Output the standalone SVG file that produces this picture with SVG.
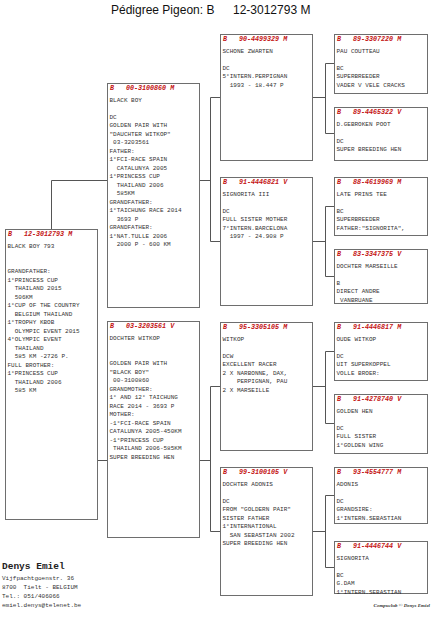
<svg xmlns="http://www.w3.org/2000/svg" width="432" height="622" viewBox="0 0 432 622">
<style>
.box{fill:#fff;stroke:#6e6e6e;stroke-width:1}
.con{fill:none;stroke:#555;stroke-width:1}
.hd{font-family:"Liberation Mono","DejaVu Sans Mono",monospace;font-size:6.7px;font-weight:bold;font-style:italic;fill:#c41414}
.tx{font-family:"Liberation Mono","DejaVu Sans Mono",monospace;font-size:6px;fill:#333;white-space:pre}
.title{font-family:"Liberation Sans",Arial,sans-serif;font-size:12px;fill:#111}
.nm{font-family:"Liberation Mono",monospace;font-size:9.5px;font-weight:bold;fill:#222}
.ad{font-family:"Liberation Mono",monospace;font-size:6px;fill:#333;white-space:pre}
.ft{font-family:"Liberation Serif",serif;font-size:5px;font-style:italic;font-weight:bold;fill:#333}
</style>
<rect width="432" height="622" fill="#fff"/>
<text class="title" x="111" y="14">Pédigree Pigeon: B</text>
<text class="title" x="233" y="14">12-3012793 M</text>

<g id="connectors">
<path class="con" d="M51.5,229.5 V180.5 H107.5"/>
<path class="con" d="M97.5,460.5 H107.5"/>
<path class="con" d="M199.5,180.5 H210.5 M210.5,97.5 V241.5 M210.5,97.5 H220.5 M210.5,241.5 H220.5"/>
<path class="con" d="M199.5,460.5 H210.5 M210.5,386.5 V531.5 M210.5,386.5 H220.5 M210.5,531.5 H220.5"/>
<path class="con" d="M312.5,97.5 H325.5 M325.5,63.5 V133.5 M325.5,63.5 H334.5 M325.5,133.5 H334.5"/>
<path class="con" d="M312.5,241.5 H325.5 M325.5,206.5 V276.5 M325.5,206.5 H334.5 M325.5,276.5 H334.5"/>
<path class="con" d="M312.5,386.5 H325.5 M325.5,351.5 V423.5 M325.5,351.5 H334.5 M325.5,423.5 H334.5"/>
<path class="con" d="M312.5,531.5 H325.5 M325.5,495.5 V567.5 M325.5,495.5 H334.5 M325.5,567.5 H334.5"/>
</g>

<g id="n1">
<rect class="box" x="5.5" y="229.5" width="92" height="290"/>
<text class="hd" x="8" y="236">B</text><text class="hd" x="24" y="236">12-3012793 M</text>
<text class="tx" x="7.5" y="247.5">BLACK BOY 793</text>
<text class="tx" x="7.5" y="273">GRANDFATHER:</text>
<text class="tx" x="7.5" y="281.5">1°PRINCESS CUP</text>
<text class="tx" x="7.5" y="290">  THAILAND 2015</text>
<text class="tx" x="7.5" y="298.5">  506KM</text>
<text class="tx" x="7.5" y="307">1°CUP OF THE COUNTRY</text>
<text class="tx" x="7.5" y="315.5">  BELGIUM THAILAND</text>
<text class="tx" x="7.5" y="324">1°TROPHY KBOB</text>
<text class="tx" x="7.5" y="332.5">  OLYMPIC EVENT 2015</text>
<text class="tx" x="7.5" y="341">4°OLYMPIC EVENT</text>
<text class="tx" x="7.5" y="349.5">  THAILAND</text>
<text class="tx" x="7.5" y="358">  585 KM -2726 P.</text>
<text class="tx" x="7.5" y="366.5">FULL BROTHER:</text>
<text class="tx" x="7.5" y="375">1°PRINCESS CUP</text>
<text class="tx" x="7.5" y="383.5">  THAILAND 2006</text>
<text class="tx" x="7.5" y="392">  585 KM</text>
</g>

<g id="n2">
<rect class="box" x="107.5" y="83.5" width="92" height="224"/>
<text class="hd" x="110" y="90">B</text><text class="hd" x="126" y="90">00-3100860 M</text>
<text class="tx" x="109.5" y="101.5">BLACK BOY</text>
<text class="tx" x="109.5" y="118.5">DC</text>
<text class="tx" x="109.5" y="127">GOLDEN PAIR WITH</text>
<text class="tx" x="109.5" y="135.5">"DAUCHTER WITKOP"</text>
<text class="tx" x="109.5" y="144"> 03-3203561</text>
<text class="tx" x="109.5" y="152.5">FATHER:</text>
<text class="tx" x="109.5" y="161">1°FCI-RACE SPAIN</text>
<text class="tx" x="109.5" y="169.5">  CATALUNYA 2005</text>
<text class="tx" x="109.5" y="178">1°PRINCESS CUP</text>
<text class="tx" x="109.5" y="186.5">  THAILAND 2006</text>
<text class="tx" x="109.5" y="195">  585KM</text>
<text class="tx" x="109.5" y="203.5">GRANDFATHER:</text>
<text class="tx" x="109.5" y="212">1°TAICHUNG RACE 2014</text>
<text class="tx" x="109.5" y="220.5">  3693 P</text>
<text class="tx" x="109.5" y="229">GRANDFATHER:</text>
<text class="tx" x="109.5" y="237.5">1°NAT.TULLE 2006</text>
<text class="tx" x="109.5" y="246">  2000 P - 600 KM</text>
</g>

<g id="n3">
<rect class="box" x="107.5" y="321.5" width="92" height="216"/>
<text class="hd" x="110" y="328">B</text><text class="hd" x="126" y="328">03-3203561 V</text>
<text class="tx" x="109.5" y="339.5">DOCHTER WITKOP</text>
<text class="tx" x="109.5" y="365">GOLDEN PAIR WITH</text>
<text class="tx" x="109.5" y="373.5">"BLACK BOY"</text>
<text class="tx" x="109.5" y="382"> 00-3100860</text>
<text class="tx" x="109.5" y="390.5">GRANDMOTHER:</text>
<text class="tx" x="109.5" y="399">1° AND 12° TAICHUNG</text>
<text class="tx" x="109.5" y="407.5">RACE 2014 - 3693 P</text>
<text class="tx" x="109.5" y="416">MOTHER:</text>
<text class="tx" x="109.5" y="424.5">-1°FCI-RACE SPAIN</text>
<text class="tx" x="109.5" y="433">CATALUNYA 2005-450KM</text>
<text class="tx" x="109.5" y="441.5">-1°PRINCESS CUP</text>
<text class="tx" x="109.5" y="450"> THAILAND 2006-585KM</text>
<text class="tx" x="109.5" y="458.5">SUPER BREEDING HEN</text>
</g>

<g id="n4">
<rect class="box" x="220.5" y="34.5" width="92" height="126"/>
<text class="hd" x="223" y="41">B</text><text class="hd" x="239" y="41">90-4499329 M</text>
<text class="tx" x="222.5" y="52.5">SCHONE ZWARTEN</text>
<text class="tx" x="222.5" y="69.5">DC</text>
<text class="tx" x="222.5" y="78">5°INTERN.PERPIGNAN</text>
<text class="tx" x="222.5" y="86.5">  1993 - 18.447 P</text>
</g>

<g id="n5">
<rect class="box" x="220.5" y="177.5" width="92" height="128"/>
<text class="hd" x="223" y="184">B</text><text class="hd" x="239" y="184">91-4446821 V</text>
<text class="tx" x="222.5" y="195.5">SIGNORITA III</text>
<text class="tx" x="222.5" y="212.5">DC</text>
<text class="tx" x="222.5" y="221">FULL SISTER MOTHER</text>
<text class="tx" x="222.5" y="229.5">7°INTERN.BARCELONA</text>
<text class="tx" x="222.5" y="238">  1997 - 24.908 P</text>
</g>

<g id="n6">
<rect class="box" x="220.5" y="322.5" width="92" height="128"/>
<text class="hd" x="223" y="329">B</text><text class="hd" x="239" y="329">95-3305105 M</text>
<text class="tx" x="222.5" y="340.5">WITKOP</text>
<text class="tx" x="222.5" y="357.5">DCW</text>
<text class="tx" x="222.5" y="366">EXCELLENT RACER</text>
<text class="tx" x="222.5" y="374.5">2 X NARBONNE, DAX,</text>
<text class="tx" x="222.5" y="383">    PERPIGNAN, PAU</text>
<text class="tx" x="222.5" y="391.5">2 X MARSEILLE</text>
</g>

<g id="n7">
<rect class="box" x="220.5" y="467.5" width="92" height="128"/>
<text class="hd" x="223" y="474">B</text><text class="hd" x="239" y="474">99-3100105 V</text>
<text class="tx" x="222.5" y="485.5">DOCHTER ADONIS</text>
<text class="tx" x="222.5" y="502.5">DC</text>
<text class="tx" x="222.5" y="511">FROM "GOLDERN PAIR"</text>
<text class="tx" x="222.5" y="519.5">SISTER FATHER</text>
<text class="tx" x="222.5" y="528">1°INTERNATIONAL</text>
<text class="tx" x="222.5" y="536.5">  SAN SEBASTIAN 2002</text>
<text class="tx" x="222.5" y="545">SUPER BREEDING HEN</text>
</g>

<g id="n8">
<rect class="box" x="334.5" y="34.5" width="93" height="59"/>
<text class="hd" x="337" y="41">B</text><text class="hd" x="353" y="41">89-3307220 M</text>
<text class="tx" x="336.5" y="52.5">PAU COUTTEAU</text>
<text class="tx" x="336.5" y="69.5">BC</text>
<text class="tx" x="336.5" y="78">SUPERBREEDER</text>
<text class="tx" x="336.5" y="86.5">VADER V VELE CRACKS</text>
</g>

<g id="n9">
<rect class="box" x="334.5" y="107.5" width="93" height="53"/>
<text class="hd" x="337" y="114">B</text><text class="hd" x="353" y="114">89-4465322 V</text>
<text class="tx" x="336.5" y="125.5">D.GEBROKEN POOT</text>
<text class="tx" x="336.5" y="142.5">DC</text>
<text class="tx" x="336.5" y="151">SUPER BREEDING HEN</text>
</g>

<g id="n10">
<rect class="box" x="334.5" y="177.5" width="93" height="58"/>
<text class="hd" x="337" y="184">B</text><text class="hd" x="353" y="184">88-4619969 M</text>
<text class="tx" x="336.5" y="195.5">LATE PRINS TEE</text>
<text class="tx" x="336.5" y="212.5">BC</text>
<text class="tx" x="336.5" y="221">SUPERBREEDER</text>
<text class="tx" x="336.5" y="229.5">FATHER:"SIGNORITA",</text>
</g>

<g id="n11">
<rect class="box" x="334.5" y="249.5" width="93" height="54"/>
<text class="hd" x="337" y="256">B</text><text class="hd" x="353" y="256">83-3347375 V</text>
<text class="tx" x="336.5" y="267.5">DOCHTER MARSEILLE</text>
<text class="tx" x="336.5" y="284.5">B</text>
<text class="tx" x="336.5" y="293">DIRECT ANDRE</text>
<text class="tx" x="336.5" y="301.5"> VANBRUANE</text>
</g>

<g id="n12">
<rect class="box" x="334.5" y="322.5" width="93" height="58"/>
<text class="hd" x="337" y="329">B</text><text class="hd" x="353" y="329">91-4446817 M</text>
<text class="tx" x="336.5" y="340.5">OUDE WITKOP</text>
<text class="tx" x="336.5" y="357.5">DC</text>
<text class="tx" x="336.5" y="366">UIT SUPERKOPPEL</text>
<text class="tx" x="336.5" y="374.5">VOLLE BROER:</text>
</g>

<g id="n13">
<rect class="box" x="334.5" y="394.5" width="93" height="59"/>
<text class="hd" x="337" y="401">B</text><text class="hd" x="353" y="401">91-4278740 V</text>
<text class="tx" x="336.5" y="412.5">GOLDEN HEN</text>
<text class="tx" x="336.5" y="429.5">DC</text>
<text class="tx" x="336.5" y="438">FULL SISTER</text>
<text class="tx" x="336.5" y="446.5">1°GOLDEN WING</text>
</g>

<g id="n14">
<rect class="box" x="334.5" y="467.5" width="93" height="56"/>
<text class="hd" x="337" y="474">B</text><text class="hd" x="353" y="474">93-4554777 M</text>
<text class="tx" x="336.5" y="485.5">ADONIS</text>
<text class="tx" x="336.5" y="502.5">DC</text>
<text class="tx" x="336.5" y="511">GRANDSIRE:</text>
<text class="tx" x="336.5" y="519.5">1°INTERN.SEBASTIAN</text>
</g>

<g id="n15">
<rect class="box" x="334.5" y="541.5" width="93" height="52"/>
<text class="hd" x="337" y="548">B</text><text class="hd" x="353" y="548">91-4446744 V</text>
<text class="tx" x="336.5" y="559.5">SIGNORITA</text>
<text class="tx" x="336.5" y="576.5">BC</text>
<text class="tx" x="336.5" y="585">G.DAM</text>
<text class="tx" x="336.5" y="593.5">1°INTERN.SEBASTIAN</text>
</g>

<g id="owner">
<text class="nm" x="2" y="569">Denys Emiel</text>
<text class="ad" x="2" y="580">Vijfpachtgoenstr. 36</text>
<text class="ad" x="2" y="589">8700  Tielt - BELGIUM</text>
<text class="ad" x="2" y="598">Tel.: 051/406066</text>
<text class="ad" x="2" y="607">emiel.denys@telenet.be</text>
</g>
<text class="ft" x="430" y="607" text-anchor="end">Compuclub © Denys Emiel</text>
</svg>
